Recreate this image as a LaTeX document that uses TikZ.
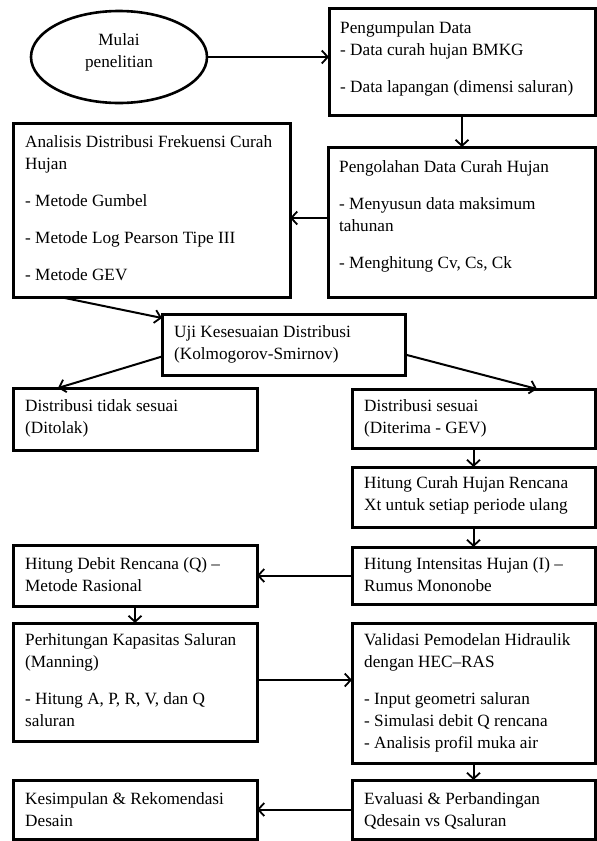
\documentclass[tikz,border=0pt]{standalone}
\usepackage{fontspec}
\setmainfont{Liberation Serif}
\usetikzlibrary{arrows.meta,shapes.geometric}
\begin{document}
\begin{tikzpicture}[x=1pt,y=-1pt,
  box/.style={draw, line width=3pt, rectangle, inner sep=0pt, outer sep=0pt, anchor=north west},
  txt/.style={anchor=north west, inner sep=0pt, align=left, font=\fontsize{17.2pt}{22pt}\selectfont},
  conn/.style={line width=2pt, -{Straight Barb[length=6pt,width=13pt,line width=1.8pt]}}]
\useasboundingbox[fill=white] (0,0) rectangle (597,841);
% start ellipse
\node[ellipse, draw, line width=2.6pt, minimum width=176pt, minimum height=92pt, inner sep=0pt] (start) at (119,57) {};
\node[align=center, inner sep=0pt, font=\fontsize{17.2pt}{22pt}\selectfont] (startlbl) at (119,52) {Mulai\\penelitian};
% boxes
\node[box, minimum width=266pt, minimum height=107pt] (b1) at (329,8) {};
\node[box, minimum width=267pt, minimum height=150pt] (b2) at (328,147) {};
\node[box, minimum width=277pt, minimum height=174pt] (b3) at (13,123) {};
\node[box, minimum width=243pt, minimum height=61pt] (b4) at (162,314) {};
\node[box, minimum width=244pt, minimum height=62pt] (b5) at (13,388) {};
\node[box, minimum width=243pt, minimum height=59pt] (b6) at (352,389) {};
\node[box, minimum width=243pt, minimum height=60pt] (b7) at (352,467) {};
\node[box, minimum width=243pt, minimum height=57pt] (b8) at (352,547) {};
\node[box, minimum width=244pt, minimum height=61pt] (b9) at (13,545) {};
\node[box, minimum width=244pt, minimum height=118pt] (b10) at (13,623) {};
\node[box, minimum width=243pt, minimum height=140pt] (b11) at (352,623) {};
\node[box, minimum width=244pt, minimum height=59pt] (b12) at (13,780) {};
\node[box, minimum width=243pt, minimum height=59pt] (b13) at (352,780) {};
% texts
\node[txt] (t1) at (340,21.5) {Pengumpulan Data\\- Data curah hujan BMKG\\[15pt]- Data lapangan (dimensi saluran)};
\node[txt] (t2) at (339,160.5) {Pengolahan Data Curah Hujan\\[15pt]- Menyusun data maksimum\\tahunan\\[15pt]- Menghitung Cv, Cs, Ck};
\node[txt] (t3) at (25,135.5) {Analisis Distribusi Frekuensi Curah\\Hujan\\[15pt]- Metode Gumbel\\[15pt]- Metode Log Pearson Tipe III\\[15pt]- Metode GEV};
\node[txt] (t4) at (174,325.5) {Uji Kesesuaian Distribusi\\(Kolmogorov-Smirnov)};
\node[txt] (t5) at (25,399.5) {Distribusi tidak sesuai\\(Ditolak)};
\node[txt] (t6) at (364,399.5) {Distribusi sesuai\\(Diterima - GEV)};
\node[txt] (t7) at (364,476.5) {Hitung Curah Hujan Rencana\\Xt untuk setiap periode ulang};
\node[txt] (t8) at (364,557.5) {Hitung Intensitas Hujan (I) –\\Rumus Mononobe};
\node[txt] (t9) at (25,557.5) {Hitung Debit Rencana (Q) –\\Metode Rasional};
\node[txt] (t10) at (25,633.5) {Perhitungan Kapasitas Saluran\\(Manning)\\[15pt]- Hitung A, P, R, V, dan Q\\saluran};
\node[txt] (t11) at (364,633.5) {Validasi Pemodelan Hidraulik\\dengan HEC–RAS\\[15pt]- Input geometri saluran\\- Simulasi debit Q rencana\\- Analisis profil muka air};
\node[txt] (t12) at (25,792.5) {Kesimpulan \& Rekomendasi\\Desain};
\node[txt] (t13) at (364,792.5) {Evaluasi \& Perbandingan\\Qdesain vs Qsaluran};
% connectors
\draw[conn] (start.east) -- (start.east -| b1.west);
\draw[conn] (b1.south) -- (b1.south |- b2.north);
\draw[conn] ([yshift=4pt]b2.west) -- ([yshift=4pt]b2.west -| b3.east);
\draw[conn] ([xshift=47pt]b3.south west) -- ([yshift=-4pt]b4.north west);
\draw[conn] ([yshift=-12pt]b4.west) -- ([xshift=45pt]b5.north west);
\draw[conn] ([yshift=-10pt]b4.east) -- ([xshift=185pt]b6.north west);
\draw[conn] (b6.south) -- (b7.north);
\draw[conn] (b7.south) -- (b8.north);
\draw[conn] (b8.west) -- (b9.east);
\draw[conn] (b9.south) -- (b10.north);
\draw[conn] ([yshift=2pt]b10.east) -- ([yshift=2pt]b10.east -| b11.west);
\draw[conn] (b11.south) -- (b13.north);
\draw[conn] (b13.west) -- (b12.east);
\end{tikzpicture}
\end{document}
